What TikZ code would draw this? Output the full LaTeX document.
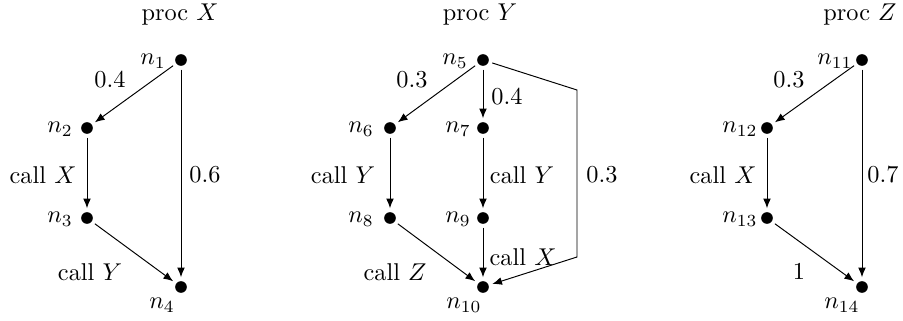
\documentclass[tikz,border=0pt]{standalone}
\usetikzlibrary{arrows.meta}
\begin{document}
\begin{tikzpicture}[x=0.4115pt,y=-0.4115pt,
  dot/.style={circle,fill=black,inner sep=0pt,minimum size=4.8pt,outer sep=1.6pt},
  edge/.style={-{Latex[length=4pt,width=3.2pt]},line width=0.4pt},
  txt/.style={inner sep=0pt}]
\useasboundingbox (0,0) rectangle (903,320);
% ---------- proc X
\node[txt] (tX) at (180,15) {proc $X$};
\node[dot] (n1) at (181,60) {};
\node[dot] (n2) at (87,128) {};
\node[dot] (n3) at (87,218) {};
\node[dot] (n4) at (181,287) {};
\node[txt] (l1) at (153,61) {$n_1$};
\node[txt] (l2) at (60,129) {$n_2$};
\node[txt] (l3) at (60,219) {$n_3$};
\node[txt] (l4) at (162,305) {$n_4$};
\draw[edge] (n1) -- (n2);
\draw[edge] (n2) -- (n3);
\draw[edge] (n3) -- (n4);
\draw[edge] (n1) -- (n4);
\node[txt] (e1) at (110,80) {$0.4$};
\node[txt] (e2) at (205,175) {$0.6$};
\node[txt] (e3) at (43,175) {call $X$};
\node[txt] (e4) at (90,272) {call $Y$};
% ---------- proc Y
\node[txt] (tY) at (480,15) {proc $Y$};
\node[dot] (n5) at (483,60) {};
\node[dot] (n6) at (390,128) {};
\node[dot] (n7) at (483,128) {};
\node[dot] (n8) at (390,218) {};
\node[dot] (n9) at (483,218) {};
\node[dot] (n10) at (483,287) {};
\node[txt] (l5) at (455,61) {$n_5$};
\node[txt] (l6) at (361,129) {$n_6$};
\node[txt] (l7) at (458,129) {$n_7$};
\node[txt] (l8) at (361,219) {$n_8$};
\node[txt] (l9) at (458,219) {$n_9$};
\node[txt] (l10) at (464,305) {$n_{10}$};
\coordinate (c1) at (577,90);
\coordinate (c2) at (577,257);
\draw[edge] (n5) -- (n6);
\draw[edge] (n5) -- (n7);
\draw[edge] (n6) -- (n8);
\draw[edge] (n7) -- (n9);
\draw[edge] (n8) -- (n10);
\draw[edge] (n9) -- (n10);
\draw[edge] (n5) -- (c1) -- (c2) -- (n10);
\node[txt] (e5) at (412,80) {$0.3$};
\node[txt] (e6) at (507,97) {$0.4$};
\node[txt] (e7) at (343,175) {call $Y$};
\node[txt] (e8) at (522,175) {call $Y$};
\node[txt] (e9) at (602,175) {$0.3$};
\node[txt] (e10) at (523,257) {call $X$};
\node[txt] (e11) at (395,272) {call $Z$};
% ---------- proc Z
\node[txt] (tZ) at (860,15) {proc $Z$};
\node[dot] (n11) at (862,60) {};
\node[dot] (n12) at (767,128) {};
\node[dot] (n13) at (767,218) {};
\node[dot] (n14) at (862,287) {};
\node[txt] (l11) at (835,61) {$n_{11}$};
\node[txt] (l12) at (740,129) {$n_{12}$};
\node[txt] (l13) at (740,219) {$n_{13}$};
\node[txt] (l14) at (842,305) {$n_{14}$};
\draw[edge] (n11) -- (n12);
\draw[edge] (n12) -- (n13);
\draw[edge] (n13) -- (n14);
\draw[edge] (n11) -- (n14);
\node[txt] (e12) at (789,80) {$0.3$};
\node[txt] (e13) at (723,175) {call $X$};
\node[txt] (e14) at (883,175) {$0.7$};
\node[txt] (e15) at (799,272) {$1$};
\end{tikzpicture}
\end{document}
